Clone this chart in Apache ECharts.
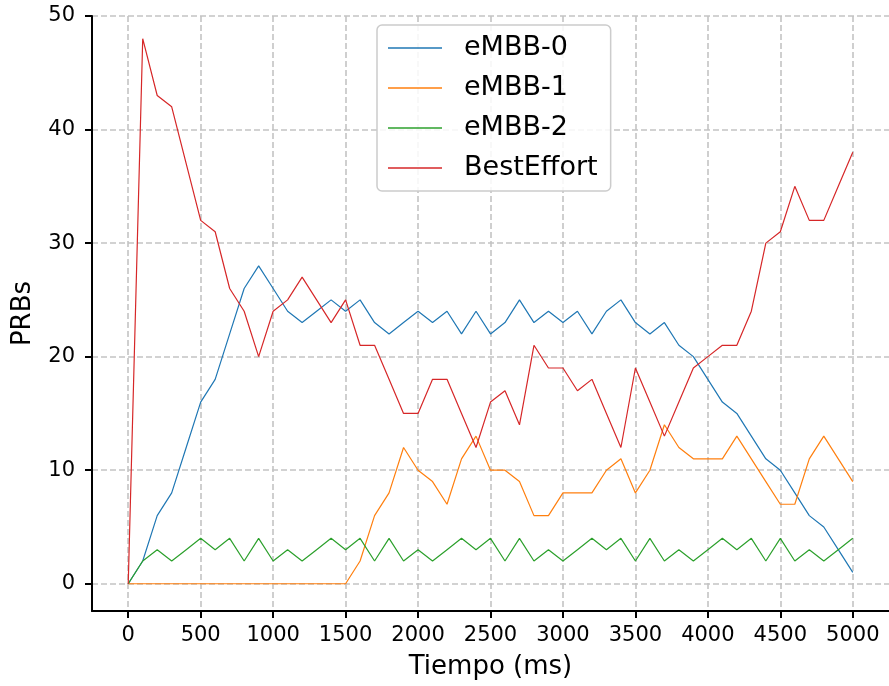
<!DOCTYPE html>
<html>
<head>
<meta charset="utf-8">
<script src="https://cdn.jsdelivr.net/npm/echarts@6/dist/echarts.min.js"></script>
<style>
  html, body { margin: 0; padding: 0; background: #ffffff; }
  #chart { width: 889px; height: 686px; }
</style>
</head>
<body>
<div id="chart"></div>
<script>
// Sample times (ms)
const tiempo = [0, 100, 200, 300, 400, 500, 600, 700, 800, 900,
  1000, 1100, 1200, 1300, 1400, 1500, 1600, 1700, 1800, 1900,
  2000, 2100, 2200, 2300, 2400, 2500, 2600, 2700, 2800, 2900,
  3000, 3100, 3200, 3300, 3400, 3500, 3600, 3700, 3800, 3900,
  4000, 4100, 4200, 4300, 4400, 4500, 4600, 4700, 4800, 4900, 5000];

// PRBs allocated per slice
const embb0 = [0, 2, 6, 8, 12, 16, 18, 22, 26, 28,
  26, 24, 23, 24, 25, 24, 25, 23, 22, 23,
  24, 23, 24, 22, 24, 22, 23, 25, 23, 24,
  23, 24, 22, 24, 25, 23, 22, 23, 21, 20,
  18, 16, 15, 13, 11, 10, 8, 6, 5, 3, 1];

const embb1 = [0, 0, 0, 0, 0, 0, 0, 0, 0, 0,
  0, 0, 0, 0, 0, 0, 2, 6, 8, 12,
  10, 9, 7, 11, 13, 10, 10, 9, 6, 6,
  8, 8, 8, 10, 11, 8, 10, 14, 12, 11,
  11, 11, 13, 11, 9, 7, 7, 11, 13, 11, 9];

const embb2 = [0, 2, 3, 2, 3, 4, 3, 4, 2, 4,
  2, 3, 2, 3, 4, 3, 4, 2, 4, 2,
  3, 2, 3, 4, 3, 4, 2, 4, 2, 3,
  2, 3, 4, 3, 4, 2, 4, 2, 3, 2,
  3, 4, 3, 4, 2, 4, 2, 3, 2, 3, 4];

const bestEffort = [0, 48, 43, 42, 37, 32, 31, 26, 24, 20,
  24, 25, 27, 25, 23, 25, 21, 21, 18, 15,
  15, 18, 18, 15, 12, 16, 17, 14, 21, 19,
  19, 17, 18, 15, 12, 19, 16, 13, 16, 19,
  20, 21, 21, 24, 30, 31, 35, 32, 32, 35, 38];

const seriesNames = ['eMBB-0', 'eMBB-1', 'eMBB-2', 'BestEffort'];
const seriesValues = [embb0, embb1, embb2, bestEffort];
const seriesColors = ['#1f77b4', '#ff7f0e', '#2ca02c', '#d62728'];

// Tick positions
const xTicks = [0, 500, 1000, 1500, 2000, 2500, 3000, 3500, 4000, 4500, 5000];
const yTicks = [0, 10, 20, 30, 40, 50];

const FONT = 'DejaVu Sans';
const gridLine = { show: true, lineStyle: { color: '#c4c4c4', width: 1.6, type: [6, 3] } };
const spine = { show: true, onZero: false, lineStyle: { color: '#000000', width: 2 } };
const tick = { show: true, inside: false, length: 7, lineStyle: { color: '#000000', width: 2 } };
const plain = (v) => String(v);

const chart = echarts.init(document.getElementById('chart'), null, { renderer: 'canvas' });

chart.setOption({
  animation: false,
  backgroundColor: '#ffffff',
  grid: { left: 92, top: 16, width: 803, height: 595, containLabel: false },
  xAxis: {
    type: 'value',
    min: -250,
    max: 5250,
    name: 'Tiempo (ms)',
    nameLocation: 'middle',
    nameGap: 43,
    nameTextStyle: { fontFamily: FONT, fontSize: 26, color: '#000000' },
    axisLine: spine,
    axisTick: Object.assign({ customValues: xTicks }, tick),
    axisLabel: { customValues: xTicks, formatter: plain, fontFamily: FONT, fontSize: 21, color: '#000000', margin: 14 },
    splitLine: gridLine
  },
  yAxis: {
    type: 'value',
    min: -2.4,
    max: 50,
    name: 'PRBs',
    nameLocation: 'middle',
    nameGap: 56,
    nameTextStyle: { fontFamily: FONT, fontSize: 26, color: '#000000' },
    axisLine: spine,
    axisTick: Object.assign({ customValues: yTicks }, tick),
    axisLabel: { customValues: yTicks, formatter: plain, fontFamily: FONT, fontSize: 21, color: '#000000', margin: 17 },
    splitLine: gridLine
  },
  legend: {
    orient: 'vertical',
    left: 377,
    top: 25,
    padding: [8, 13, 8, 11],
    itemGap: 10,
    itemWidth: 54,
    itemHeight: 1.5,
    icon: 'rect',
    backgroundColor: 'rgba(255,255,255,0.85)',
    borderColor: '#cccccc',
    borderWidth: 1.5,
    borderRadius: 5,
    textStyle: { fontFamily: FONT, fontSize: 27, color: '#000000', lineHeight: 30, padding: [0, 0, 0, 17] },
    data: seriesNames
  },
  series: seriesNames.map((name, i) => ({
    name: name,
    type: 'line',
    symbol: 'none',
    color: seriesColors[i],
    lineStyle: { color: seriesColors[i], width: 1.2 },
    data: tiempo.map((t, j) => [t, seriesValues[i][j]])
  }))
});
</script>
</body>
</html>
